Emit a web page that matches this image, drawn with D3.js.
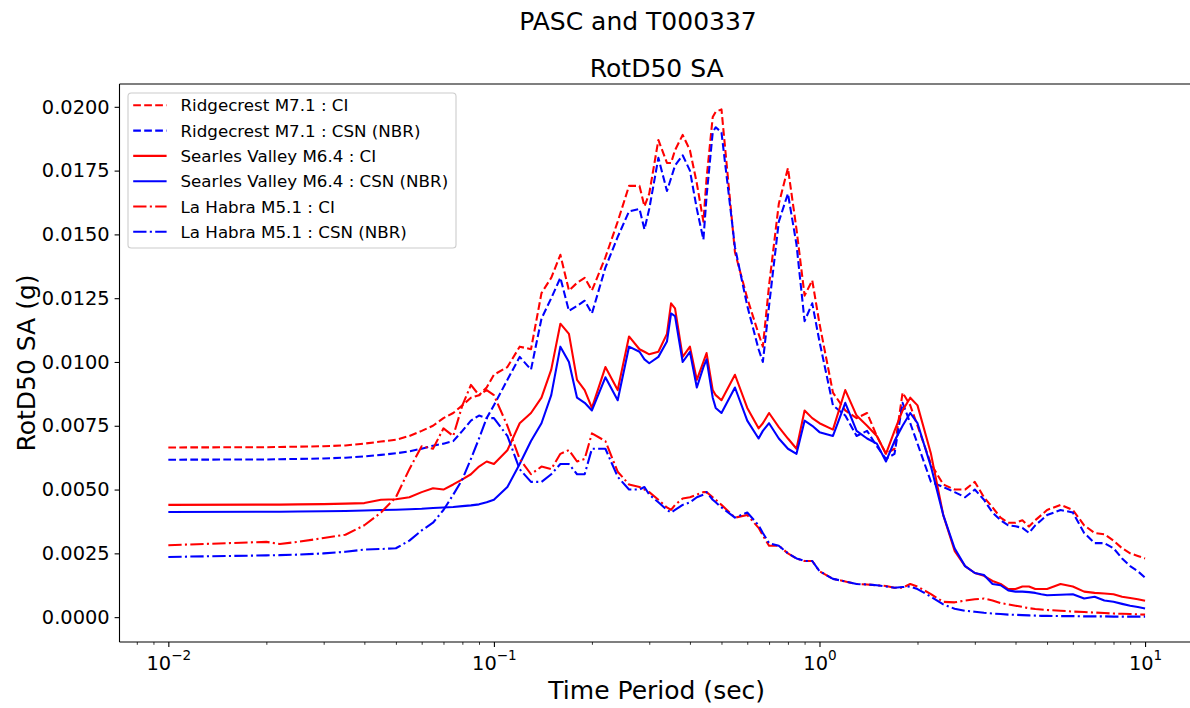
<!DOCTYPE html>
<html><head><meta charset="utf-8">
<script src="https://cdn.jsdelivr.net/npm/d3@7"></script>
<style>body{margin:0;background:#fff;} svg{display:block;font-family:"DejaVu Sans",sans-serif;}</style>
</head><body><svg id="chart" width="1190" height="708"></svg>
<script>
// ---- data ----
const periods = [0.01, 0.02, 0.022, 0.025, 0.03, 0.035, 0.04, 0.045, 0.05, 0.055,
 0.06, 0.065, 0.07, 0.075, 0.08, 0.085, 0.09, 0.095, 0.1, 0.11,
 0.12, 0.13, 0.14, 0.15, 0.16, 0.17, 0.18, 0.19, 0.2, 0.22,
 0.24, 0.26, 0.28, 0.29, 0.3, 0.32, 0.34, 0.35, 0.36, 0.38,
 0.4, 0.42, 0.44, 0.45, 0.47, 0.48, 0.5, 0.55, 0.6, 0.65,
 0.67, 0.7, 0.75, 0.8, 0.85, 0.9, 0.95, 1.0, 1.1, 1.2,
 1.3, 1.4, 1.5, 1.6, 1.7, 1.8, 1.9, 2.0, 2.2, 2.4,
 2.6, 2.8, 3.0, 3.2, 3.4, 3.6, 3.8, 4.0, 4.2, 4.4,
 4.6, 4.8, 5.0, 5.5, 6.0, 6.5, 7.0, 7.5, 8.0, 8.5,
 9.0, 9.5, 10];

const ridgecrestCI = [0.00665, 0.00666, 0.00667, 0.00668, 0.0067, 0.00673, 0.0068, 0.00688, 0.00695, 0.0071,
 0.0073, 0.0075, 0.0078, 0.0080, 0.0083, 0.0086, 0.0087, 0.0090, 0.0095, 0.0098,
 0.0106, 0.0105, 0.0127, 0.0133, 0.0142, 0.0128, 0.0131, 0.0133, 0.0128, 0.0141,
 0.0155, 0.0169, 0.0169, 0.0161, 0.0166, 0.0187, 0.0178, 0.0178, 0.0183, 0.0189,
 0.0183, 0.0170, 0.0155, 0.0172, 0.0196, 0.0198, 0.0199, 0.0143, 0.0125, 0.0111,
 0.0106, 0.0130, 0.0162, 0.0176, 0.0152, 0.0126, 0.0132, 0.0115, 0.0088, 0.0081,
 0.0078, 0.0080, 0.0071, 0.0064, 0.0066, 0.0088, 0.0083, 0.0075, 0.0060, 0.0052,
 0.0050, 0.0050, 0.0053, 0.0047, 0.0043, 0.0039, 0.0037, 0.0037, 0.0038, 0.00355,
 0.0038, 0.0040, 0.0042, 0.0044, 0.0042, 0.0036, 0.0033, 0.00325, 0.0030, 0.0027,
 0.0025, 0.0024, 0.0023];

const ridgecrestCSN = [0.00617, 0.00618, 0.00619, 0.0062, 0.00622, 0.00625, 0.0063, 0.00636, 0.00642, 0.0065,
 0.0066, 0.00672, 0.0068, 0.0069, 0.0073, 0.0077, 0.0079, 0.0078, 0.0083, 0.0093,
 0.0102, 0.0097, 0.0117, 0.0125, 0.0133, 0.0120, 0.0122, 0.0124, 0.0119, 0.0137,
 0.0149, 0.0159, 0.0160, 0.0152, 0.0160, 0.0180, 0.0167, 0.0172, 0.0177, 0.0181,
 0.0175, 0.0160, 0.0148, 0.0165, 0.0190, 0.0192, 0.0190, 0.0145, 0.0122, 0.0105,
 0.0100, 0.0122, 0.0155, 0.0166, 0.0146, 0.0116, 0.0123, 0.0108, 0.0083, 0.0079,
 0.0071, 0.0073, 0.0067, 0.0062, 0.0064, 0.0084, 0.0076, 0.0068, 0.0053, 0.0051,
 0.0049, 0.0047, 0.0050, 0.0046, 0.0041, 0.0038, 0.0036, 0.00356, 0.0035, 0.0033,
 0.0036, 0.0038, 0.0040, 0.0042, 0.0041, 0.0033, 0.0029, 0.0029, 0.0027, 0.0023,
 0.0020, 0.0018, 0.00155];

const searlesCI = [0.00440, 0.00441, 0.00441, 0.00442, 0.00443, 0.00445, 0.00447, 0.0046, 0.00462, 0.0047,
 0.0049, 0.00505, 0.0050, 0.0052, 0.0054, 0.0056, 0.0059, 0.0061, 0.0060, 0.00654,
 0.0076, 0.0080, 0.0086, 0.0097, 0.0115, 0.0111, 0.0093, 0.0089, 0.0082, 0.0098,
 0.0089, 0.0110, 0.0105, 0.0104, 0.0103, 0.0104, 0.0111, 0.0123, 0.0121, 0.0102,
 0.0106, 0.0093, 0.0100, 0.01035, 0.0089, 0.0087, 0.0085, 0.0095, 0.0082, 0.0074,
 0.0076, 0.0080, 0.00745, 0.0070, 0.0066, 0.0081, 0.0078, 0.0076, 0.00735, 0.0089,
 0.0079, 0.0075, 0.0071, 0.0064, 0.0073, 0.0081, 0.0086, 0.0083, 0.0064, 0.0040,
 0.0026, 0.0020, 0.00173, 0.00162, 0.00142, 0.0013, 0.0011, 0.0011, 0.0012, 0.0012,
 0.0011, 0.0011, 0.0011, 0.0013, 0.0012, 0.0010, 0.00095, 0.00093, 0.0009, 0.0008,
 0.00075, 0.0007, 0.00064];

const searlesCSN = [0.00412, 0.00413, 0.00413, 0.00414, 0.00415, 0.00416, 0.00418, 0.0042, 0.00421, 0.00423,
 0.00425, 0.00428, 0.0043, 0.00432, 0.00435, 0.00438, 0.00442, 0.0045, 0.0046, 0.0051,
 0.0060, 0.0069, 0.0076, 0.0087, 0.0106, 0.0100, 0.0086, 0.0084, 0.0081, 0.0094,
 0.0085, 0.0106, 0.0104, 0.0101, 0.00995, 0.0102, 0.0108, 0.0119, 0.0118, 0.0100,
 0.0104, 0.0090, 0.0098, 0.0101, 0.0086, 0.0082, 0.0080, 0.0090, 0.0077, 0.0070,
 0.0073, 0.0076, 0.0070, 0.0066, 0.0064, 0.0077, 0.0075, 0.00725, 0.0071, 0.0084,
 0.0073, 0.0070, 0.0068, 0.0061, 0.0069, 0.0075, 0.0080, 0.0076, 0.0059, 0.0040,
 0.0027, 0.0020, 0.00173, 0.00165, 0.0013, 0.00125, 0.00105, 0.0010, 0.0010, 0.00098,
 0.00095, 0.0009, 0.00086, 0.00088, 0.0009, 0.00073, 0.0008, 0.00065, 0.0006, 0.00052,
 0.00045, 0.0004, 0.00034];

const laHabraCI = [0.00282, 0.00295, 0.00287, 0.00295, 0.0031, 0.00323, 0.0036, 0.0041, 0.0047, 0.0058,
 0.0067, 0.0066, 0.0074, 0.0071, 0.0083, 0.0091, 0.0087, 0.0089, 0.0087, 0.0075,
 0.0062, 0.0056, 0.0059, 0.0058, 0.0064, 0.00655, 0.0061, 0.0062, 0.0072, 0.0069,
 0.0057, 0.0052, 0.0051, 0.0050, 0.0049, 0.0046, 0.0043, 0.0042, 0.0044, 0.00465,
 0.0047, 0.0048, 0.0049, 0.0049, 0.0047, 0.0046, 0.0044, 0.0039, 0.0040, 0.0035,
 0.0032, 0.0028, 0.0028, 0.0025, 0.0023, 0.0022, 0.0022, 0.0018, 0.0015, 0.0014,
 0.0013, 0.00128, 0.00125, 0.00122, 0.00115, 0.00115, 0.0013, 0.0012, 0.0009, 0.0006,
 0.00058, 0.00065, 0.0007, 0.00073, 0.00065, 0.00055, 0.0005, 0.00045, 0.0004, 0.00035,
 0.00032, 0.0003, 0.00028, 0.00025, 0.00022, 0.0002, 0.00018, 0.00016, 0.00014, 0.00013,
 0.00012, 0.00011, 0.0001];

const laHabraCSN = [0.00236, 0.00242, 0.00243, 0.00245, 0.0025, 0.00256, 0.00265, 0.00267, 0.0027, 0.0030,
 0.0034, 0.0037, 0.0042, 0.0048, 0.0054, 0.0062, 0.0070, 0.0078, 0.0078, 0.0071,
 0.0058, 0.0053, 0.0053, 0.0056, 0.0060, 0.0060, 0.0056, 0.0056, 0.0066, 0.0066,
 0.0055, 0.0050, 0.0050, 0.0051, 0.0048, 0.0045, 0.0042, 0.0041, 0.0042, 0.0044,
 0.0045, 0.0047, 0.0048, 0.0049, 0.0046, 0.0045, 0.0043, 0.0039, 0.0041, 0.0036,
 0.0033, 0.0029, 0.0028, 0.0025, 0.0023, 0.0022, 0.0022, 0.0018, 0.0015, 0.0014,
 0.0013, 0.00128, 0.00125, 0.0012, 0.00115, 0.00118, 0.0012, 0.0011, 0.0008, 0.0005,
 0.00033, 0.00025, 0.00021, 0.00017, 0.00014, 0.00012, 0.0001, 0.00009, 0.00008, 0.00007,
 0.00006, 0.00005, 0.00005, 0.00004, 0.00004, 0.00003, 0.00003, 0.00003, 0.00002, 0.00002,
 0.00002, 0.00002, 0.00002];

const seriesNames = ["Ridgecrest M7.1 : CI", "Ridgecrest M7.1 : CSN (NBR)",
  "Searles Valley M6.4 : CI", "Searles Valley M6.4 : CSN (NBR)",
  "La Habra M5.1 : CI", "La Habra M5.1 : CSN (NBR)"];
const seriesValues = [ridgecrestCI, ridgecrestCSN, searlesCI, searlesCSN, laHabraCI, laHabraCSN];
const seriesColors = ["red", "blue", "red", "blue", "red", "blue"];
const seriesDash = ["7.7,3.3", "7.7,3.3", null, null, "13.3,3.3,2.1,3.3", "13.3,3.3,2.1,3.3"];

const yTicks = [0, 0.0025, 0.005, 0.0075, 0.01, 0.0125, 0.015, 0.0175, 0.02];
const xMajor = [0.01, 0.1, 1, 10];
const xExponents = ["\u22122", "\u22121", "0", "1"];

// ---- layout ----
const L = 119.5, R = 1193.9, T = 84, B = 642;
const svg = d3.select("#chart");

const x = d3.scaleLog().domain([Math.pow(10, -2.15), Math.pow(10, 1.15)]).range([L, R]);
const all = [].concat(...seriesValues);
const ymin = d3.min(all), ymax = d3.max(all), pad = (ymax - ymin) * 0.05;
const y = d3.scaleLinear().domain([ymin - pad, ymax + pad]).range([B, T]);

// lines
const line = d3.line().x((d, i) => x(periods[i])).y(d => y(d));
const g = svg.append("g");
seriesValues.forEach((vals, k) => {
  const n = Math.min(vals.length, periods.length);
  g.append("path")
    .datum(vals.slice(0, n))
    .attr("d", line)
    .attr("fill", "none")
    .attr("stroke", seriesColors[k])
    .attr("stroke-width", 2.08)
    .attr("stroke-linejoin", "round")
    .attr("stroke-dasharray", seriesDash[k]);
});

// minor x ticks
const minor = [];
[-3, -2, -1, 0, 1].forEach(e => { for (let m = 2; m <= 9; m++) { const v = m * Math.pow(10, e); if (v >= x.domain()[0] && v <= x.domain()[1]) minor.push(v); } });
svg.append("g").attr("transform", `translate(0,${B})`)
  .call(d3.axisBottom(x).tickValues(minor).tickSize(2.8).tickSizeOuter(0).tickFormat(() => ""))
  .call(s => { s.select(".domain").remove(); s.selectAll("line").attr("stroke", "#000").attr("stroke-width", 0.8); });

// major x ticks
const xg = svg.append("g").attr("transform", `translate(0,${B})`)
  .call(d3.axisBottom(x).tickValues(xMajor).tickSize(4.9).tickPadding(4.9).tickSizeOuter(0).tickFormat(() => ""));
xg.select(".domain").remove();
xg.selectAll("line").attr("stroke", "#000").attr("stroke-width", 1.1);
xg.selectAll("text").each(function (d, i) {
  const t = d3.select(this);
  t.attr("dy", null).attr("y", 28).attr("font-size", 19.4).attr("fill", "#000").attr("font-family", "DejaVu Sans");
  t.append("tspan").text("10");
  t.append("tspan").attr("dy", -10).attr("font-size", 13.6).text(xExponents[i]);
});

// y axis
const yg = svg.append("g").attr("transform", `translate(${L},0)`)
  .call(d3.axisLeft(y).tickValues(yTicks).tickSize(4.9).tickPadding(4.9).tickSizeOuter(0).tickFormat(d3.format(".4f")));
yg.select(".domain").remove();
yg.selectAll("line").attr("stroke", "#000").attr("stroke-width", 1.1);
yg.selectAll("text").attr("font-size", 19.4).attr("fill", "#000").attr("font-family", "DejaVu Sans");

// spines
const sp = svg.append("g").attr("stroke", "#000").attr("stroke-width", 1.1);
sp.append("line").attr("x1", L).attr("x2", L).attr("y1", T).attr("y2", B);
sp.append("line").attr("x1", L).attr("x2", R).attr("y1", T).attr("y2", T);
sp.append("line").attr("x1", L).attr("x2", R).attr("y1", B).attr("y2", B);
sp.append("line").attr("x1", R).attr("x2", R).attr("y1", T).attr("y2", B);

// titles & labels
const cx = (L + R) / 2;
svg.append("text").attr("x", 638).attr("y", 29.5).attr("text-anchor", "middle").attr("font-size", 25).attr("fill", "#000").text("PASC and T000337");
svg.append("text").attr("x", cx).attr("y", 76.5).attr("text-anchor", "middle").attr("font-size", 25).attr("fill", "#000").text("RotD50 SA");
svg.append("text").attr("x", cx).attr("y", 699).attr("text-anchor", "middle").attr("font-size", 25).attr("fill", "#000").text("Time Period (sec)");
svg.append("text").attr("transform", `translate(35,${(T + B) / 2}) rotate(-90)`).attr("text-anchor", "middle").attr("font-size", 25).attr("fill", "#000").text("RotD50 SA (g)");

// legend
const lg = svg.append("g");
lg.append("rect").attr("x", 128).attr("y", 93).attr("width", 328).attr("height", 155).attr("rx", 3.3)
  .attr("fill", "#fff").attr("fill-opacity", 0.8).attr("stroke", "#cccccc").attr("stroke-width", 1.1);
seriesNames.forEach((name, k) => {
  const yy = 105.3 + k * 25.3;
  lg.append("line").attr("x1", 133.2).attr("x2", 166.6).attr("y1", yy).attr("y2", yy)
    .attr("stroke", seriesColors[k]).attr("stroke-width", 2.08).attr("stroke-dasharray", seriesDash[k]);
  lg.append("text").attr("x", 180.5).attr("y", yy).attr("dy", "0.36em").attr("font-size", 16.7).attr("fill", "#000").text(name);
});
</script></body></html>
